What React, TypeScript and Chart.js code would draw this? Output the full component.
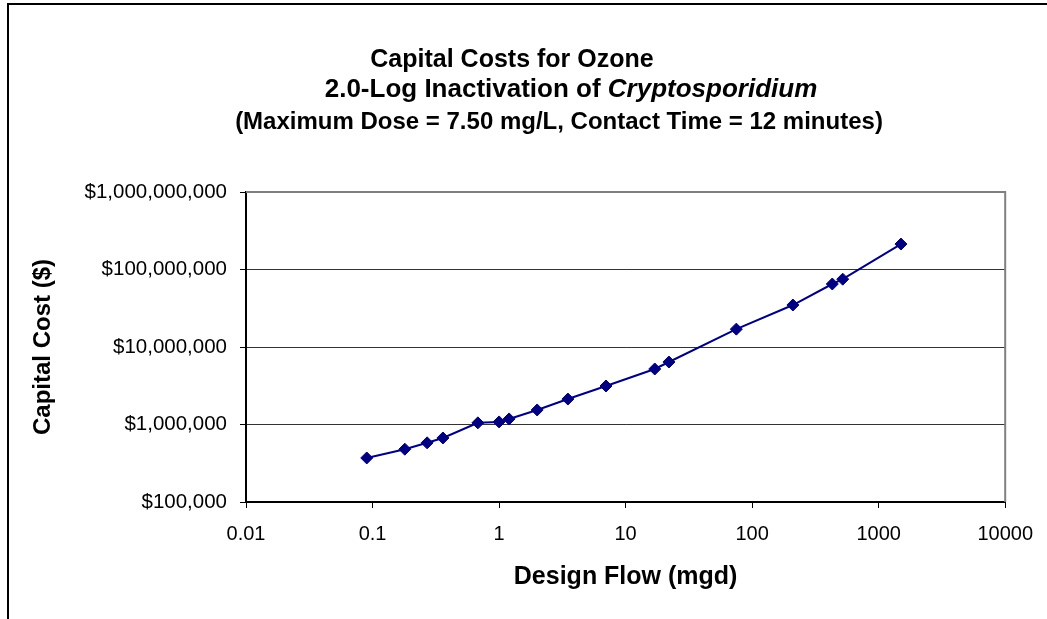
import React, { useEffect, useRef } from "react";
import { Chart, registerables } from "chart.js";

Chart.register(...registerables);

const FONT = '"Liberation Sans", Arial, Helvetica, sans-serif';
const NAVY = "#000080";

// Data
const designFlowMgd = [0.09, 0.18, 0.27, 0.36, 0.68, 1.0, 1.2, 2.0, 3.5, 7.0, 17, 22, 75, 210, 430, 520, 1500];
const capitalCost = [370000, 480000, 580000, 670000, 1050000, 1080000, 1180000, 1540000, 2130000, 3140000, 5200000, 6400000, 17000000, 34800000, 65000000, 75000000, 213000000];

const xTickValues = [0.01, 0.1, 1, 10, 100, 1000, 10000];
const xTickLabels = ["0.01", "0.1", "1", "10", "100", "1000", "10000"];
const yTickValues = [100000, 1000000, 10000000, 100000000, 1000000000];
const yTickLabels = ["$100,000", "$1,000,000", "$10,000,000", "$100,000,000", "$1,000,000,000"];

const titleLine1 = "Capital Costs for Ozone";
const titleLine2a = "2.0-Log Inactivation of ";
const titleLine2b = "Cryptosporidium";
const titleLine3 = "(Maximum Dose = 7.50 mg/L, Contact Time = 12 minutes)";
const xTitle = "Design Flow (mgd)";
const yTitle = "Capital Cost ($)";

const decorPlugin = {
  id: "decor",
  beforeDatasetsDraw(chart: any) {
    const { ctx, chartArea } = chart;
    const { left, top, right, bottom } = chartArea;
    ctx.save();
    ctx.strokeStyle = "#808080";
    ctx.lineWidth = 2;
    ctx.beginPath();
    ctx.moveTo(left, top);
    ctx.lineTo(right, top);
    ctx.lineTo(right, bottom);
    ctx.stroke();
    ctx.restore();
  },
  afterDraw(chart: any) {
    const { ctx, width, height } = chart;
    ctx.save();
    // outer chart frame (partially visible)
    ctx.strokeStyle = "#000";
    ctx.lineWidth = 2;
    ctx.beginPath();
    ctx.moveTo(8, height);
    ctx.lineTo(8, 4);
    ctx.lineTo(width, 4);
    ctx.stroke();

    // titles
    ctx.fillStyle = "#000";
    ctx.textBaseline = "middle";
    ctx.textAlign = "left";
    ctx.font = `bold 25px ${FONT}`;
    let w = ctx.measureText(titleLine1).width;
    ctx.fillText(titleLine1, 512 - w / 2, 60);

    ctx.font = `bold 26px ${FONT}`;
    const wa = ctx.measureText(titleLine2a).width;
    ctx.font = `italic bold 26px ${FONT}`;
    const wb = ctx.measureText(titleLine2b).width;
    const start = 571 - (wa + wb) / 2;
    ctx.font = `bold 26px ${FONT}`;
    ctx.fillText(titleLine2a, start, 90);
    ctx.font = `italic bold 26px ${FONT}`;
    ctx.fillText(titleLine2b, start + wa, 90);

    ctx.font = `bold 24px ${FONT}`;
    w = ctx.measureText(titleLine3).width;
    ctx.fillText(titleLine3, 559 - w / 2, 122);
    ctx.restore();
  },
};

export default function App() {
  const ref = useRef<HTMLCanvasElement>(null);

  useEffect(() => {
    const canvas = ref.current;
    if (!canvas) return;
    const chart = new Chart(canvas, {
      type: "line",
      data: {
        datasets: [
          {
            data: designFlowMgd.map((x, i) => ({ x, y: capitalCost[i] })),
            borderColor: NAVY,
            backgroundColor: NAVY,
            pointBackgroundColor: NAVY,
            pointBorderColor: NAVY,
            pointStyle: "rectRot",
            pointRadius: 6,
            pointBorderWidth: 1,
            borderWidth: 2,
            tension: 0,
          },
        ],
      },
      options: {
        animation: false,
        responsive: false,
        layout: { padding: { top: 192, right: 41, left: 0, bottom: 0 } },
        plugins: {
          legend: { display: false },
          tooltip: { enabled: false },
          title: { display: false },
        },
        scales: {
          x: {
            type: "logarithmic",
            position: "bottom",
            min: 0.01,
            max: 10000,
            afterBuildTicks: (s: any) => {
              s.ticks = xTickValues.map((v) => ({ value: v }));
            },
            afterFit: (s: any) => {
              s.height = 117;
            },
            grid: {
              drawOnChartArea: false,
              drawTicks: true,
              tickLength: 6,
              color: "#000",
              tickColor: "#000",
            },
            border: { display: true, color: "#000", width: 2 },
            ticks: {
              autoSkip: false,
              maxRotation: 0,
              padding: 14,
              color: "#000",
              font: { family: FONT, size: 20 },
              callback: (_v: any, i: number) => xTickLabels[i],
            },
            title: {
              display: true,
              text: xTitle,
              color: "#000",
              font: { family: FONT, size: 25, weight: "bold" },
              padding: { top: 0, bottom: 27 },
            },
          },
          y: {
            type: "logarithmic",
            position: "left",
            min: 100000,
            max: 1000000000,
            afterBuildTicks: (s: any) => {
              s.ticks = yTickValues.map((v) => ({ value: v }));
            },
            afterFit: (s: any) => {
              s.width = 246;
            },
            grid: {
              drawOnChartArea: true,
              drawTicks: true,
              tickLength: 6,
              color: "#333",
              tickColor: "#000",
              lineWidth: 1,
            },
            border: { display: true, color: "#000", width: 2 },
            ticks: {
              autoSkip: false,
              padding: 13,
              color: "#000",
              font: { family: FONT, size: 20.5 },
              callback: (_v: any, i: number) => yTickLabels[i],
            },
            title: {
              display: true,
              text: yTitle,
              color: "#000",
              font: { family: FONT, size: 24, weight: "bold" },
              padding: { top: 29, bottom: 0 },
            },
          },
        },
      },
      plugins: [decorPlugin],
    });
    return () => chart.destroy();
  }, []);

  return (
    <div style={{ position: "absolute", left: 0, top: 0, width: 1047, height: 619, background: "#fff" }}>
      <canvas ref={ref} width={1047} height={619} style={{ display: "block" }} />
    </div>
  );
}
